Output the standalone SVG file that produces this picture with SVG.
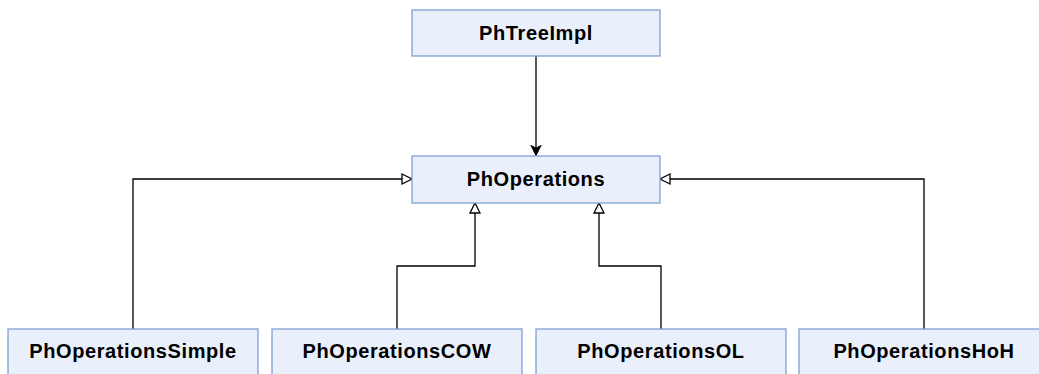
<svg xmlns="http://www.w3.org/2000/svg" width="1039" height="374" viewBox="0 0 1039 374">
<style>
.box{fill:#e9effb;stroke:#7f9fd3;stroke-width:1.3}
.lbl{font-family:"Liberation Sans",Arial,sans-serif;font-weight:bold;font-size:20px;letter-spacing:0.6px;fill:#000;text-anchor:middle}
.c{fill:none;stroke:#000;stroke-width:1.3}
</style>
<defs>
<marker id="filled" markerWidth="14" markerHeight="14" refX="11" refY="6" orient="auto" markerUnits="userSpaceOnUse">
<path d="M0,0 L12,6 L0,12 L3,6 Z" fill="#000"/>
</marker>
<marker id="hollow" markerWidth="14" markerHeight="14" refX="11" refY="6" orient="auto" markerUnits="userSpaceOnUse">
<path d="M1,1 L11,6 L1,11 Z" fill="#fff" stroke="#000" stroke-width="1.3"/>
</marker>
</defs>
<g id="connectors">
<path class="c" d="M536,56 V155.5" marker-end="url(#filled)"/>
<path class="c" d="M133,329 V179 H412" marker-end="url(#hollow)"/>
<path class="c" d="M924,329 V179 H660" marker-end="url(#hollow)"/>
<path class="c" d="M397,329 V266 H475 V203" marker-end="url(#hollow)"/>
<path class="c" d="M661,329 V266 H599 V203" marker-end="url(#hollow)"/>
</g>
<g id="PhTreeImpl"><rect class="box" x="412" y="10" width="248" height="46"/><text class="lbl" x="536" y="39.5">PhTreeImpl</text></g>
<g id="PhOperations"><rect class="box" x="412" y="156" width="248" height="47"/><text class="lbl" x="536" y="185.5">PhOperations</text></g>
<g id="PhOperationsSimple"><rect class="box" x="8" y="329" width="250" height="47"/><text class="lbl" x="133" y="358">PhOperationsSimple</text></g>
<g id="PhOperationsCOW"><rect class="box" x="272" y="329" width="250" height="47"/><text class="lbl" x="397" y="358">PhOperationsCOW</text></g>
<g id="PhOperationsOL"><rect class="box" x="536" y="329" width="250" height="47"/><text class="lbl" x="661" y="358">PhOperationsOL</text></g>
<g id="PhOperationsHoH"><rect class="box" x="799" y="329" width="250" height="47"/><text class="lbl" x="924" y="358">PhOperationsHoH</text></g>
</svg>
